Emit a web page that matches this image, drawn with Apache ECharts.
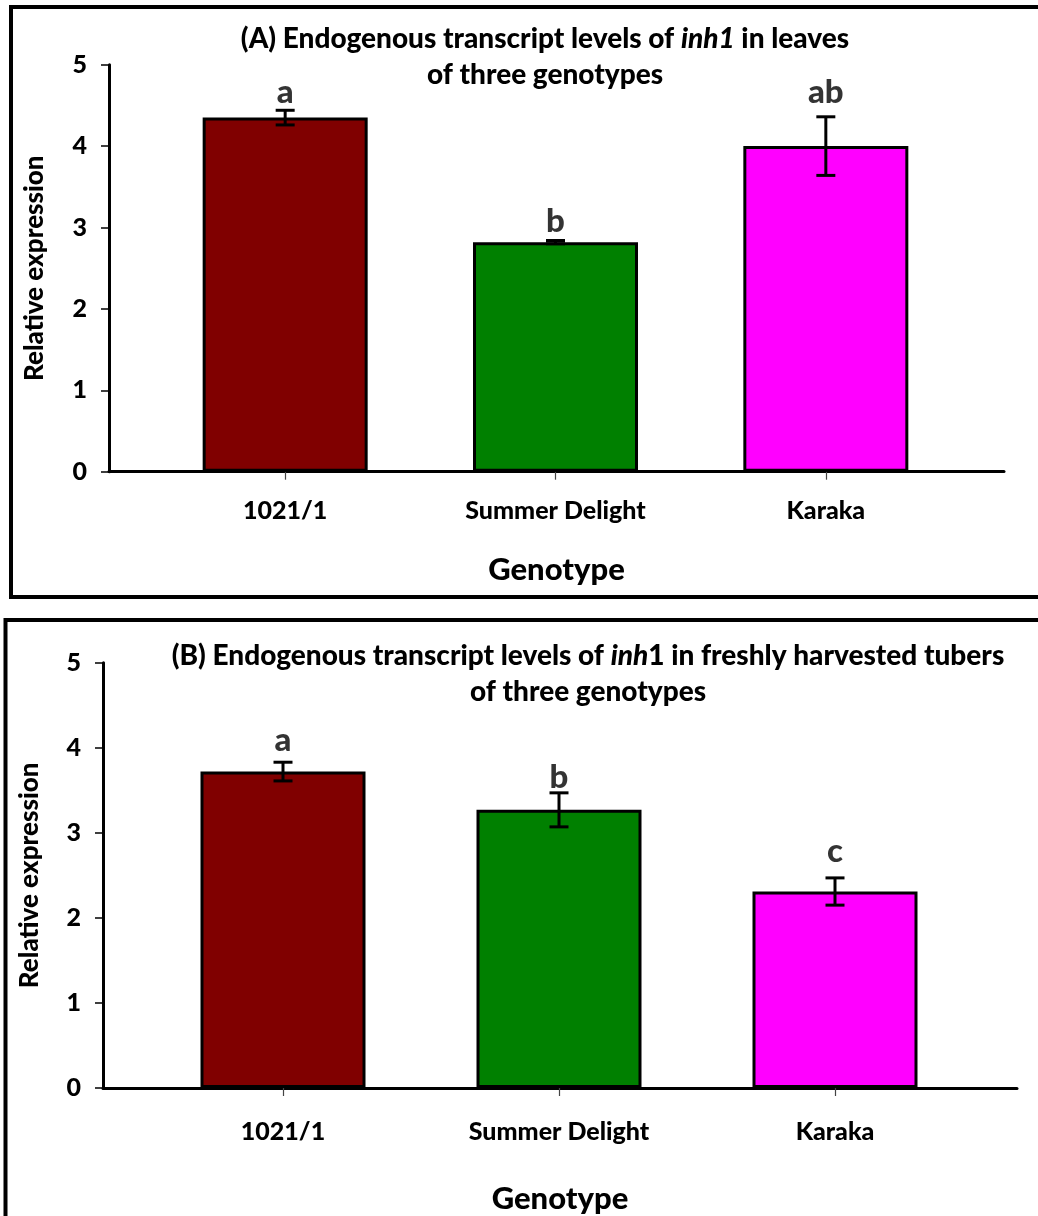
<!DOCTYPE html>
<html><head><meta charset="utf-8">
<script src="https://cdn.jsdelivr.net/npm/echarts@6/dist/echarts.min.js"></script>
<style>html,body{margin:0;padding:0;background:#fff}#c{width:1038px;height:1216px}</style>
</head><body><div id="c"></div>
<script>
// ---- data ----
const categories = ['1021/1', 'Summer Delight', 'Karaka'];
const barColors = ['#800000', '#008000', '#FF00FF'];
const leafMeans = [4.35, 2.82, 4.00];
const leafErr = [0.09, 0.02, 0.36];
const leafLetters = ['a', 'b', 'ab'];
const leafLetterY = [4.66, 3.07, 4.66];
const tuberMeans = [3.72, 3.27, 2.31];
const tuberErr = [0.11, 0.20, 0.16];
const tuberLetters = ['a', 'b', 'c'];
const tuberLetterY = [4.09, 3.65, 2.78];
const yMin = 0, yMax = 5, yStep = 1;

const FONT = 'Lato, "Open Sans", sans-serif';
const W = 900;
const chart = echarts.init(document.getElementById('c'), null, {renderer: 'canvas'});

function errRender(params, api) {
  const i = api.value(0), m = api.value(1), e = api.value(2);
  const top = api.coord([i, m + e]);
  const bot = api.coord([i, m - e]);
  const hw = 9.5;
  const st = {stroke: '#000', lineWidth: 3};
  return {type: 'group', children: [
    {type: 'line', shape: {x1: top[0], y1: top[1], x2: bot[0], y2: bot[1]}, style: st},
    {type: 'line', shape: {x1: top[0] - hw, y1: top[1], x2: top[0] + hw, y2: top[1]}, style: st},
    {type: 'line', shape: {x1: bot[0] - hw, y1: bot[1], x2: bot[0] + hw, y2: bot[1]}, style: st}
  ]};
}

function barData(means) {
  return means.map((v, i) => ({value: v, itemStyle: {color: barColors[i]}}));
}

const grids = [
  {left: 109, top: 64.7, width: 895, height: 407},
  {left: 150, top: 64.7, width: 811, height: 407},
  {left: 103, top: 662.7, width: 914, height: 425.3},
  {left: 145, top: 662.7, width: 828, height: 425.3}
];

function outerX(gi, gap) {
  return {gridIndex: gi, type: 'value', min: 0, max: 1,
    axisLine: {show: true, lineStyle: {color: '#000', width: 3}},
    axisTick: {show: false}, axisLabel: {show: false}, splitLine: {show: false},
    name: 'Genotype', nameLocation: 'middle', nameGap: gap,
    nameTextStyle: {fontFamily: FONT, fontWeight: W, fontSize: 31, color: '#000'}};
}
function innerX(gi, margin) {
  return {gridIndex: gi, type: 'category', data: categories,
    axisLine: {show: false},
    axisTick: {show: true, alignWithLabel: true, length: 8, lineStyle: {color: '#444', width: 1.2}},
    axisLabel: {fontFamily: FONT, fontWeight: W, fontSize: 25, color: '#000', margin: margin},
    splitLine: {show: false}};
}
function outerY(gi, gap) {
  return {gridIndex: gi, type: 'value', min: yMin, max: yMax, interval: yStep,
    axisLine: {show: true, lineStyle: {color: '#000', width: 3}},
    axisTick: {show: true, length: 8, lineStyle: {color: '#000', width: 1.5}},
    axisLabel: {fontFamily: FONT, fontWeight: W, fontSize: 25, color: '#000', margin: 22},
    splitLine: {show: false},
    name: 'Relative expression', nameLocation: 'middle', nameGap: gap, nameRotate: 90,
    nameTextStyle: {fontFamily: FONT, fontWeight: W, fontSize: 26, color: '#000'}};
}
function innerY(gi) {
  return {gridIndex: gi, type: 'value', min: yMin, max: yMax, interval: yStep, show: false};
}

function seriesFor(xi, yi, means, errs, letters, letterY) {
  return [
    {type: 'bar', xAxisIndex: xi, yAxisIndex: yi, barWidth: 165, data: barData(means),
      itemStyle: {borderColor: '#000', borderWidth: 3}, z: 2, animation: false},
    {type: 'custom', xAxisIndex: xi, yAxisIndex: yi, renderItem: errRender, z: 5, animation: false,
      data: means.map((m, i) => [i, m, errs[i]])},
    {type: 'scatter', xAxisIndex: xi, yAxisIndex: yi, symbolSize: 0, z: 6, animation: false,
      data: letterY.map((v, i) => [i, v]),
      label: {show: true, position: 'inside', formatter: p => letters[p.dataIndex],
        fontFamily: FONT, fontWeight: W, fontSize: 33, color: '#000'}}
  ];
}

const titleRich = {i: {fontStyle: 'italic', fontWeight: W, fontSize: 28, fontFamily: FONT, lineHeight: 36, fill: '#000'}};
const option = {
  backgroundColor: '#fff',
  animation: false,
  grid: grids,
  xAxis: [outerX(0, 83), innerX(1, 27), outerX(2, 95), innerX(3, 31)],
  yAxis: [outerY(0, 61), innerY(1), outerY(2, 60), innerY(3)],
  series: [].concat(
    seriesFor(1, 1, leafMeans, leafErr, leafLetters, leafLetterY),
    seriesFor(3, 3, tuberMeans, tuberErr, tuberLetters, tuberLetterY)
  ),
  graphic: [
    {type: 'rect', shape: {x: 11, y: 7, width: 1040, height: 590}, style: {fill: 'none', stroke: '#000', lineWidth: 4}, z: 10},
    {type: 'rect', shape: {x: 5.5, y: 620, width: 1040, height: 700}, style: {fill: 'none', stroke: '#000', lineWidth: 4}, z: 10},
    {type: 'text', x: 545, y: 57, z: 10, style: {
      text: '(A) Endogenous transcript levels of {i|inh1} in leaves\nof three genotypes',
      align: 'center', verticalAlign: 'middle', lineHeight: 36,
      font: W + ' 28px ' + FONT, fill: '#000', rich: titleRich}},
    {type: 'text', x: 588, y: 674, z: 10, style: {
      text: '(B) Endogenous transcript levels of {i|inh}1 in freshly harvested tubers\nof three genotypes',
      align: 'center', verticalAlign: 'middle', lineHeight: 36,
      font: W + ' 28px ' + FONT, fill: '#000', rich: titleRich}}
  ]
};
chart.setOption(option);
</script>
</body></html>
